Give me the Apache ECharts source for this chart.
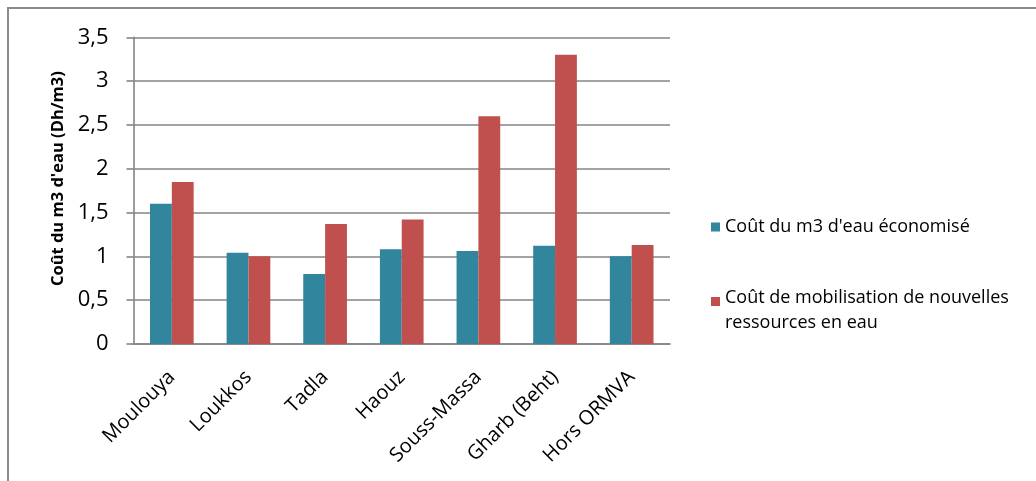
<!DOCTYPE html>
<html>
<head>
<meta charset="utf-8">
<script src="https://cdn.jsdelivr.net/npm/echarts@6/dist/echarts.min.js"></script>
<style>
  html, body { margin: 0; padding: 0; background: #ffffff; }
  #chart { width: 1036px; height: 481px; }
</style>
</head>
<body>
<div id="chart"></div>
<script>
// Régions (ORMVA) et coûts en Dh/m3
const categories = ['Moulouya', 'Loukkos', 'Tadla', 'Haouz', 'Souss-Massa', 'Gharb (Beht)', 'Hors ORMVA'];
const coutEconomise = [1.6, 1.04, 0.8, 1.08, 1.06, 1.12, 1.0];
const coutMobilisation = [1.85, 1.0, 1.37, 1.42, 2.6, 3.3, 1.13];
const seriesNames = ["Coût du m3 d'eau économisé", 'Coût de mobilisation de nouvelles ressources en eau'];
const legendLabels = ["Coût du m3 d'eau économisé", 'Coût de mobilisation de nouvelles\nressources en eau'];

const FONT = '"Open Sans", "DejaVu Sans", sans-serif';
const GRID_COLOR = '#848484';

// Legend markers: a 9px square placed inside a taller transparent box,
// so it lines up with the first line of a wrapped label.
const iconMiddle = 'path://M0,12.5h9v9h-9z M0,0h0.01v0.01h-0.01z M0,34h0.01v0.01h-0.01z';
const iconTop = 'path://M0,4h9v9h-9z M0,0h0.01v0.01h-0.01z M0,34h0.01v0.01h-0.01z';

const chart = echarts.init(document.getElementById('chart'), null, { renderer: 'canvas' });

chart.setOption({
  backgroundColor: '#ffffff',
  animation: false,
  textStyle: { fontFamily: FONT },
  graphic: [
    {
      type: 'rect',
      shape: { x: 8, y: 8, width: 1200, height: 700 },
      style: { fill: 'none', stroke: '#8a8a8a', lineWidth: 2 },
      silent: true
    }
  ],
  grid: { left: 133.5, right: 366, top: 37.3, bottom: 137, containLabel: false },
  legend: {
    orient: 'vertical',
    left: 706,
    top: 205,
    itemWidth: 9,
    itemHeight: 34,
    itemGap: 41,
    selectedMode: false,
    data: [
      { name: seriesNames[0], icon: iconMiddle },
      { name: seriesNames[1], icon: iconTop }
    ],
    formatter: function (name) {
      return legendLabels[seriesNames.indexOf(name)];
    },
    textStyle: { fontFamily: FONT, fontSize: 18, color: '#000000', lineHeight: 25 }
  },
  xAxis: {
    type: 'category',
    data: categories,
    axisLine: { show: true, lineStyle: { color: GRID_COLOR, width: 1.6 } },
    axisTick: { show: false },
    axisLabel: {
      rotate: 45,
      margin: 30,
      interval: 0,
      fontFamily: FONT,
      fontSize: 20,
      color: '#000000'
    }
  },
  yAxis: {
    type: 'value',
    min: 0,
    max: 3.5,
    interval: 0.5,
    name: "Coût du m3 d'eau (Dh/m3)",
    nameLocation: 'middle',
    nameGap: 66,
    nameTextStyle: {
      fontFamily: FONT,
      fontSize: 16.5,
      fontWeight: 'bold',
      color: '#000000',
      padding: [0, 0, 0, 24]
    },
    axisLine: { show: true, lineStyle: { color: GRID_COLOR, width: 1.6 } },
    axisTick: { show: true, length: 7, lineStyle: { color: GRID_COLOR, width: 1.6 } },
    splitLine: { show: true, lineStyle: { color: GRID_COLOR, width: 1.6 } },
    axisLabel: {
      margin: 25,
      fontFamily: FONT,
      fontSize: 22,
      color: '#000000',
      formatter: function (v) { return String(v).replace('.', ','); }
    }
  },
  series: [
    {
      name: seriesNames[0],
      type: 'bar',
      data: coutEconomise,
      barGap: '0%',
      barCategoryGap: '43%',
      itemStyle: { color: '#31859C' }
    },
    {
      name: seriesNames[1],
      type: 'bar',
      data: coutMobilisation,
      barGap: '0%',
      barCategoryGap: '43%',
      itemStyle: { color: '#C0504D' }
    }
  ]
});
</script>
</body>
</html>
